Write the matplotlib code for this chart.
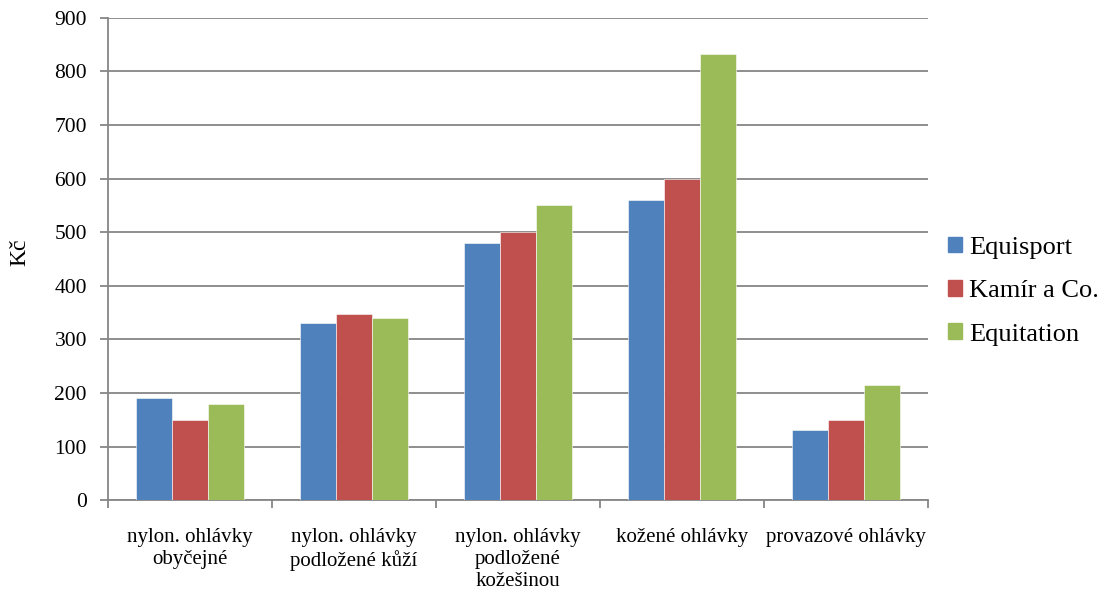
import numpy as np
import matplotlib
matplotlib.use("Agg")
import matplotlib.pyplot as plt
from matplotlib.patches import Patch

# ------------------------------------
# Data
# ------------------------------------

categories = [
    "nylon. ohlávky\nobyčejné",
    "nylon. ohlávky\npodložené kůží",
    "nylon. ohlávky\npodložené\nkožešinou",
    "kožené ohlávky",
    "provazové ohlávky",
]
series_names = ["Equisport", "Kamír a Co.", "Equitation"]
equisport = [190, 330, 480, 560, 130]
kamir = [150, 348, 500, 600, 150]
equitation = [179, 340, 550, 833, 215]
colors = ["#4F81BD", "#C0504D", "#9BBB59"]

plt.rcParams["font.family"] = ["Liberation Serif", "DejaVu Serif"]

fig = plt.figure(figsize=(11, 5.94), dpi=100)
ax = fig.add_axes([0.098, 0.158, 0.746, 0.812])

x = np.arange(len(categories))
w = 0.22
for i, (vals, name) in enumerate(zip([equisport, kamir, equitation], series_names)):
    ax.bar(x + (i - 1) * w, vals, width=w, color=colors[i], label=name,
           edgecolor="white", linewidth=0.4, zorder=3)

ax.set_xlim(-0.5, len(categories) - 0.5)
ax.set_ylim(0, 900)
ax.set_yticks(range(0, 901, 100))
ax.yaxis.grid(True, color="#868686", linewidth=1.3, zorder=0)

# category labels centred, ticks at boundaries
ax.set_xticks(x)
ax.set_xticklabels(categories, fontsize=15, linespacing=1.2)
ax.tick_params(axis="x", length=0, pad=20)
ax.set_xticks(np.arange(-0.5, len(categories)), minor=True)
ax.tick_params(axis="x", which="minor", length=6, color="#868686", width=1.3)
ax.tick_params(axis="y", labelsize=15.5, length=6, color="#868686", width=1.3, pad=9)

for s in ["top", "right"]:
    ax.spines[s].set_visible(False)
for s in ["left", "bottom"]:
    ax.spines[s].set_color("#868686")
    ax.spines[s].set_linewidth(1.3)

fig.text(20 / 1100, 1 - 252 / 594, "Kč", fontsize=17, rotation=90,
         ha="center", va="center")

handles = [Patch(color=c, label=n) for c, n in zip(colors, series_names)]
fig.legend(handles=handles, loc="center left", bbox_to_anchor=(0.84, 0.51),
           frameon=False, fontsize=19, handlelength=0.55, handleheight=0.55,
           handletextpad=0.25, labelspacing=0.8)

fig.savefig("out.png", dpi=100)
